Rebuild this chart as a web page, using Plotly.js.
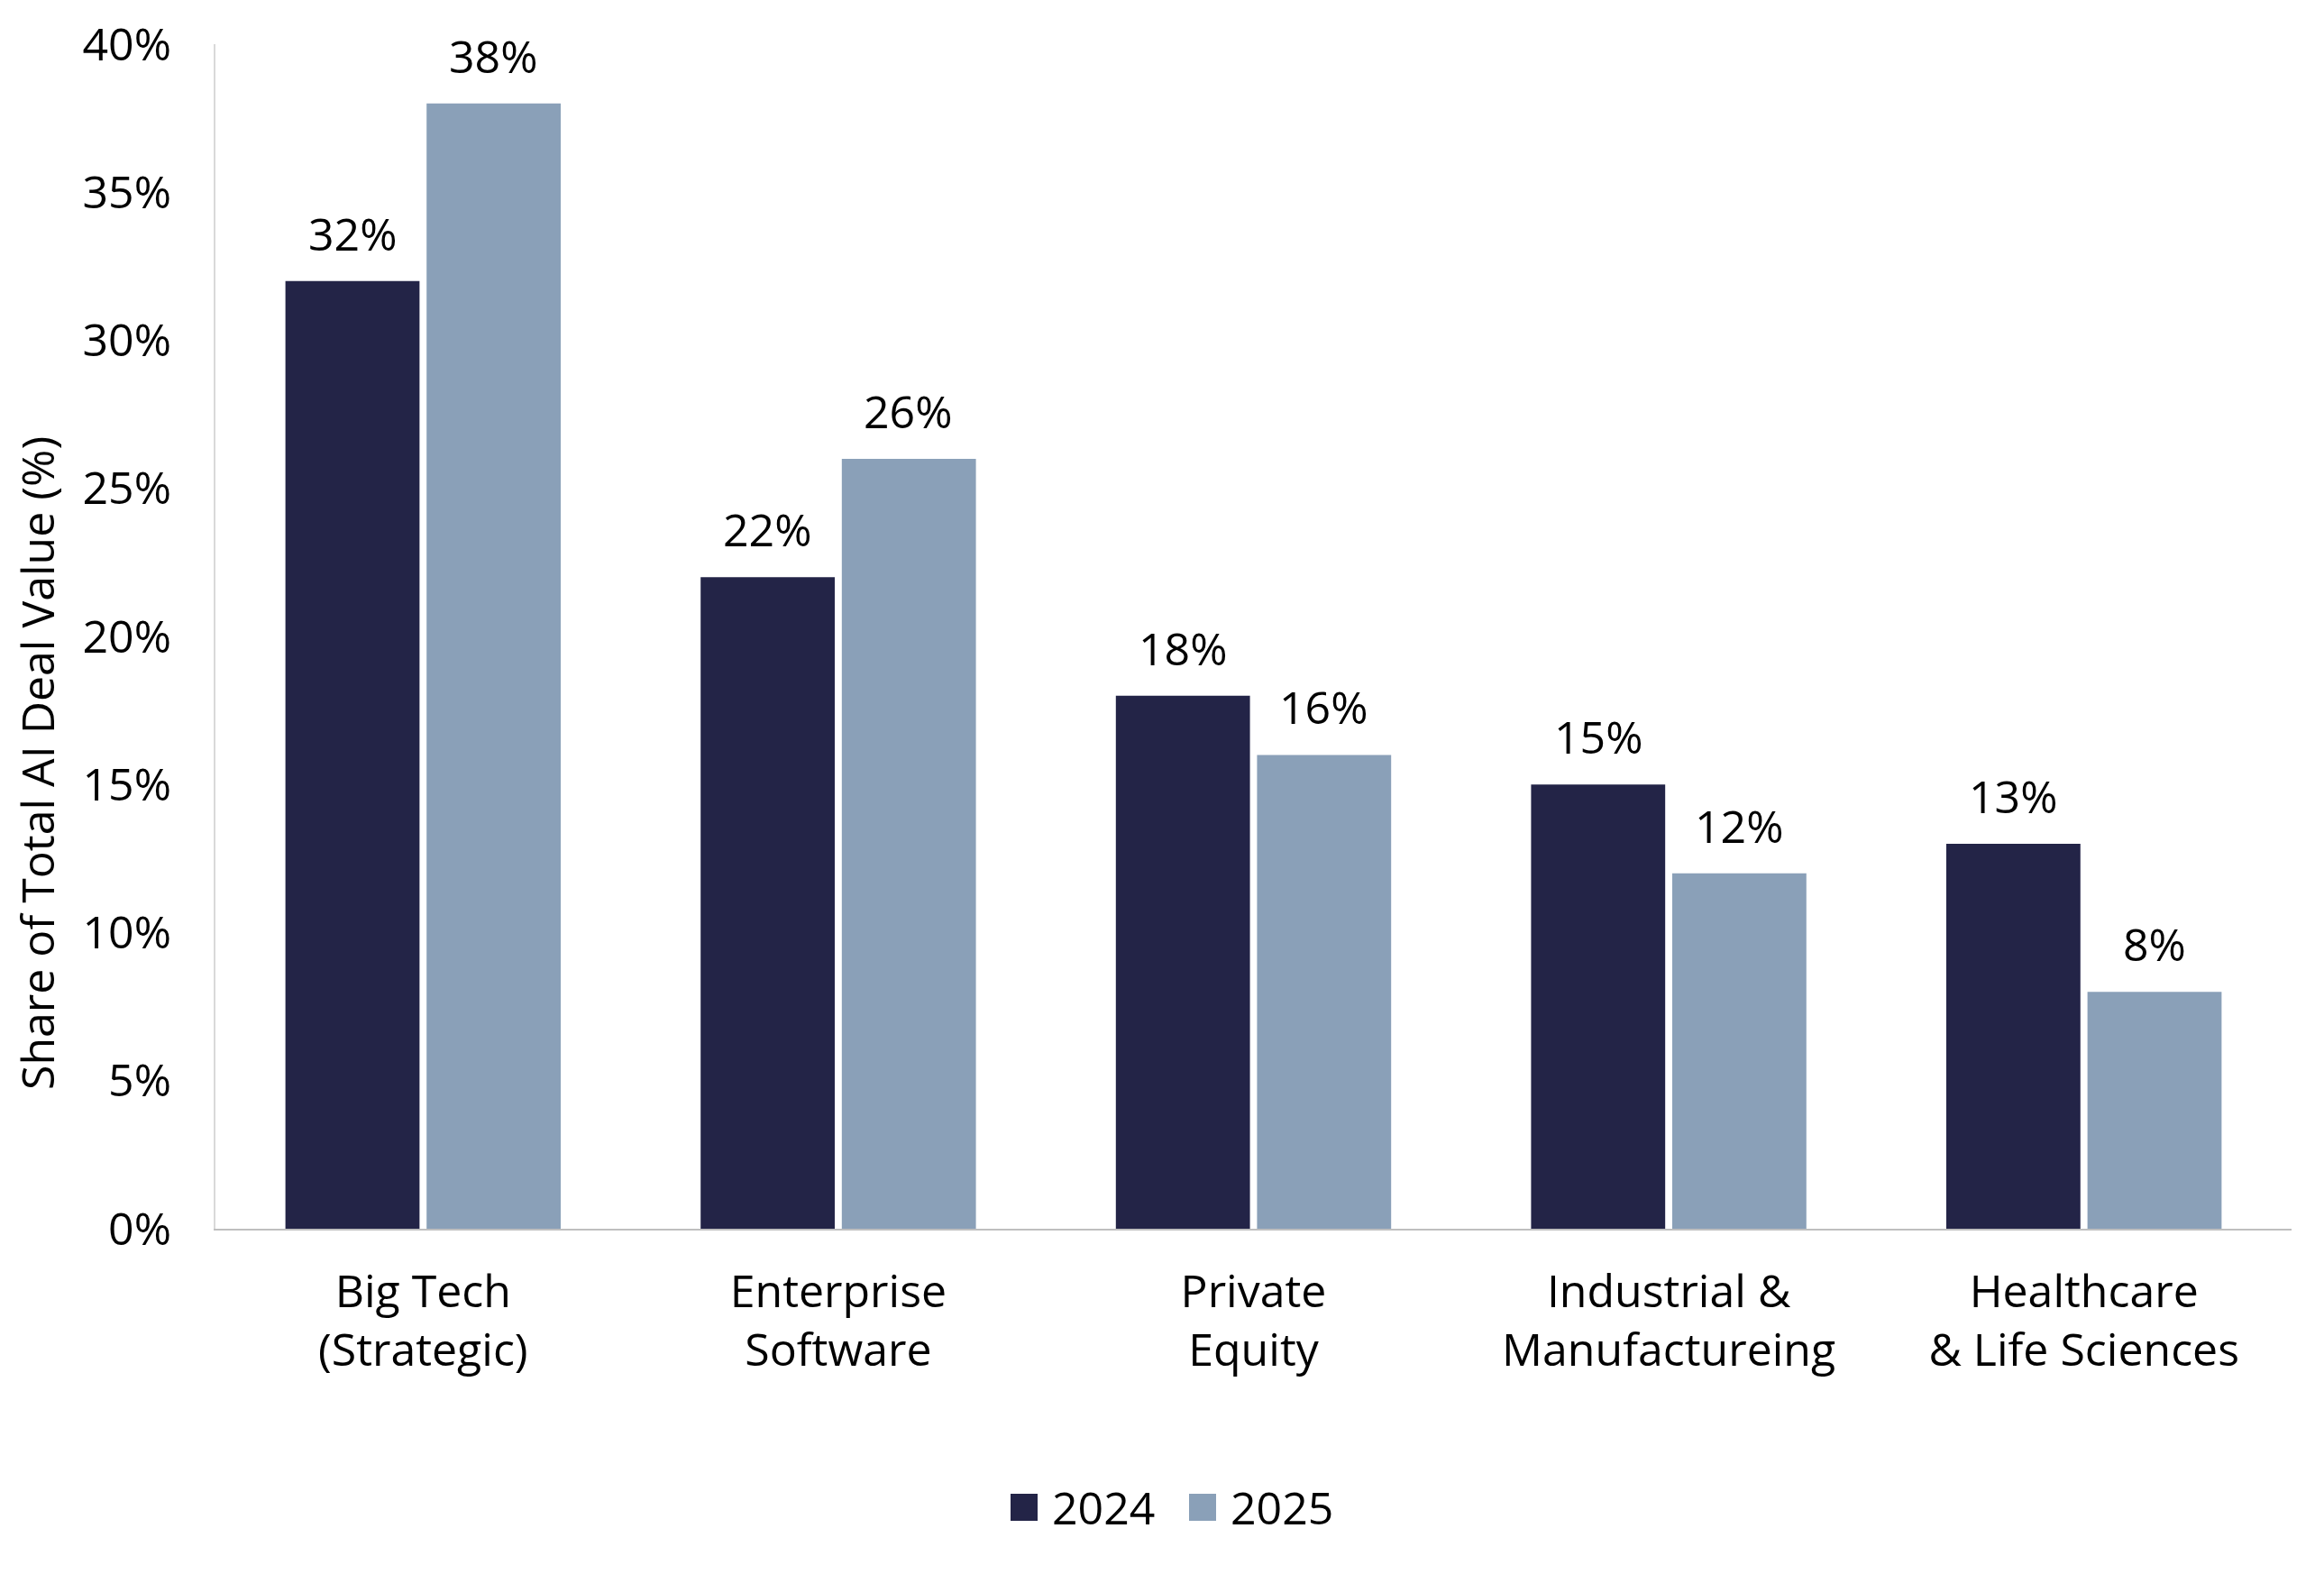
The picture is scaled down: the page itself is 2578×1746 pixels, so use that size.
<!DOCTYPE html>
<html>
<head>
<meta charset="utf-8">
<script src="https://cdn.plot.ly/plotly-3.0.1.min.js"></script>
<style>
  html, body { margin: 0; padding: 0; background: #ffffff; }
  #chart { width: 2578px; height: 1746px; }
</style>
</head>
<body>
<div id="chart"></div>
<script>
const categories = [
  'Big Tech<br>(Strategic)',
  'Enterprise<br>Software',
  'Private<br>Equity',
  'Industrial &<br>Manufactureing',
  'Healthcare<br>& Life Sciences'
];
const values2024 = [0.32, 0.22, 0.18, 0.15, 0.13];
const values2025 = [0.38, 0.26, 0.16, 0.12, 0.08];
const seriesNames = ['2024', '2025'];
const yTickVals = [0, 0.05, 0.10, 0.15, 0.20, 0.25, 0.30, 0.35, 0.40];

const FONT = 'Open Sans, Liberation Sans, Arial, sans-serif';
const colors = ['#232447', '#8AA0B8'];

const W = 2578, H = 1746;
const M = { l: 239, r: 36, t: 49, b: 383 };
const PW = W - M.l - M.r;
const PH = H - M.t - M.b;
const xPaper = px => (px - M.l) / PW;
const yPaper = py => (H - M.b - py) / PH;

const traces = [values2024, values2025].map((vals, i) => ({
  type: 'bar',
  name: seriesNames[i],
  x: categories,
  y: vals,
  marker: { color: colors[i] },
  showlegend: false,
  hoverinfo: 'skip'
}));

// etiquetas de valor encima de cada barra
const annotations = [];
[values2024, values2025].forEach((vals, i) => {
  vals.forEach((v, k) => {
    annotations.push({
      x: categories[k],
      y: v,
      xref: 'x',
      yref: 'y',
      text: Math.round(v * 100) + '%',
      showarrow: false,
      xshift: i === 0 ? -78 : 78,
      yshift: 53,
      yanchor: 'middle',
      font: { family: FONT, size: 50, color: '#000000' }
    });
  });
});

// título del eje Y centrado respecto a la figura
annotations.push({
  xref: 'paper',
  yref: 'paper',
  x: xPaper(41),
  y: yPaper(847),
  text: 'Share of Total AI Deal Value (%)',
  textangle: -90,
  showarrow: false,
  xanchor: 'center',
  yanchor: 'middle',
  font: { family: FONT, size: 50, color: '#000000' }
});

// leyenda con cuadros grandes como en el original
const legendSwatchX = [1121, 1319];
const legendY = 1672;
const shapes = [];
seriesNames.forEach((name, i) => {
  shapes.push({
    type: 'rect',
    xref: 'paper',
    yref: 'paper',
    x0: xPaper(legendSwatchX[i]),
    x1: xPaper(legendSwatchX[i] + 30),
    y0: yPaper(legendY - 15),
    y1: yPaper(legendY + 15),
    fillcolor: colors[i],
    line: { width: 0 }
  });
  annotations.push({
    xref: 'paper',
    yref: 'paper',
    x: xPaper(legendSwatchX[i] + 44),
    y: yPaper(legendY),
    text: name,
    showarrow: false,
    xanchor: 'left',
    yanchor: 'middle',
    font: { family: FONT, size: 50, color: '#000000' }
  });
});

const layout = {
  width: W,
  height: H,
  paper_bgcolor: '#ffffff',
  plot_bgcolor: '#ffffff',
  margin: M,
  barmode: 'group',
  bargap: 0.32,
  bargroupgap: 0.05,
  font: { family: FONT, size: 50, color: '#000000' },
  showlegend: false,
  xaxis: {
    type: 'category',
    showline: true,
    linecolor: '#BFBFBF',
    linewidth: 2,
    showgrid: false,
    zeroline: false,
    ticks: 'outside',
    ticklen: 25,
    tickcolor: 'rgba(0,0,0,0)',
    tickfont: { family: FONT, size: 50, color: '#000000' }
  },
  yaxis: {
    range: [0, 0.40],
    tickvals: yTickVals,
    tickformat: '.0%',
    showline: true,
    linecolor: '#D9D9D9',
    linewidth: 2,
    showgrid: false,
    zeroline: false,
    ticks: 'outside',
    ticklen: 37,
    tickcolor: 'rgba(0,0,0,0)',
    tickfont: { family: FONT, size: 50, color: '#000000' }
  },
  shapes: shapes,
  annotations: annotations
};

Plotly.newPlot('chart', traces, layout, { displayModeBar: false, staticPlot: true });
</script>
</body>
</html>
